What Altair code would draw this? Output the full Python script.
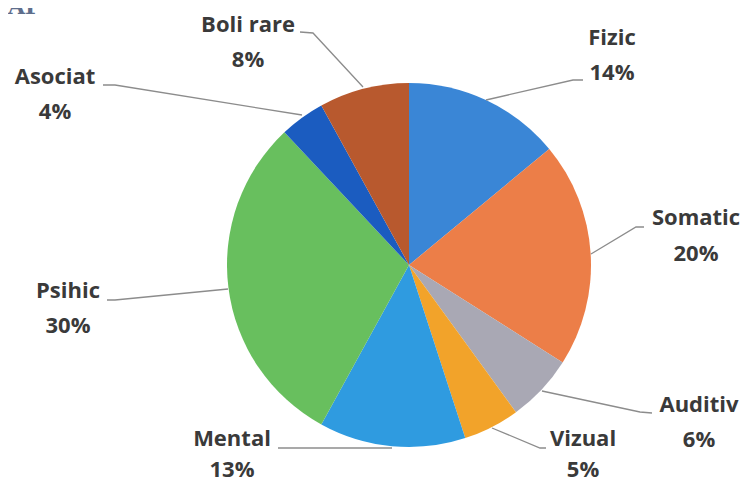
import altair as alt
import pandas as pd

# ---- data ----
categories = ["Fizic", "Somatic", "Auditiv", "Vizual", "Mental", "Psihic", "Asociat", "Boli rare"]
values = [14, 20, 6, 5, 13, 30, 4, 8]
pct_labels = ["14%", "20%", "6%", "5%", "13%", "30%", "4%", "8%"]
colors = ["#3A86D6", "#EC7E48", "#A9A8B4", "#F2A32A", "#2F9BE0", "#68BF5E", "#1B5CC0", "#B8592E"]

# ---- layout (page pixels) ----
W, H = 736, 474
OFF = 8
CX, CY, R = 409, 265, 182
# label centre x, name line y, percent line y
label_x = [612, 696, 699, 583, 232, 68, 55, 248]
name_y = [38, 218, 405, 439, 439, 291, 77, 25]
pct_y = [73, 254, 440, 470, 470, 326, 112, 60]
# leader lines: pie-side point, elbow, label-side point
lead_x = [[486, 573, 583], [591, 636, 644], [542, 640, 652], [492, 540, 546],
          [392, 285, 278], [228, 115, 107], [302, 115, 103], [363, 313, 300]]
lead_y = [[100, 80, 80], [254, 227, 227], [391, 412, 413], [428, 448, 448],
          [448, 448, 448], [289, 300, 300], [115, 85, 85], [87, 33, 32]]

pie_df = pd.DataFrame({"cat": categories, "value": values, "idx": range(len(values))})

lab_rows = []
for i, c in enumerate(categories):
    lab_rows.append({"cat": c, "x": label_x[i] - OFF, "y": name_y[i] - OFF, "text": c})
    lab_rows.append({"cat": c, "x": label_x[i] - OFF, "y": pct_y[i] - OFF, "text": pct_labels[i]})
lab_df = pd.DataFrame(lab_rows)

line_rows = []
for i, c in enumerate(categories):
    for k in range(3):
        line_rows.append({"cat": c, "k": k, "x": lead_x[i][k] - OFF, "y": lead_y[i][k] - OFF})
line_df = pd.DataFrame(line_rows)

xs = alt.Scale(domain=[0, W], range=[0, W])
ys = alt.Scale(domain=[0, H], range=[0, H])

pie = alt.Chart(pie_df).mark_arc(outerRadius=R).encode(
    theta=alt.Theta("value:Q", stack=True),
    color=alt.Color("cat:N", scale=alt.Scale(domain=categories, range=colors), legend=None, sort=None),
    order=alt.Order("idx:Q"),
    x=alt.value(CX - OFF),
    y=alt.value(CY - OFF),
)

lines = alt.Chart(line_df).mark_line(color="#8C8C8C", strokeWidth=1.3).encode(
    x=alt.X("x:Q", scale=xs, axis=None),
    y=alt.Y("y:Q", scale=ys, axis=None),
    detail="cat:N",
    order="k:Q",
)

labels = alt.Chart(lab_df).mark_text(
    font="Open Sans", fontSize=22, fontWeight="bold", color="#3A3A3A", align="center", baseline="middle"
).encode(
    x=alt.X("x:Q", scale=xs, axis=None),
    y=alt.Y("y:Q", scale=ys, axis=None),
    text="text:N",
)

title_df = pd.DataFrame({"x": [0], "y": [14 - OFF], "text": ["AP"]})
title = alt.Chart(title_df).mark_text(
    font="DejaVu Serif", fontSize=22, fontWeight="bold", color="#5E6E8C", align="left", baseline="alphabetic"
).encode(
    x=alt.X("x:Q", scale=xs, axis=None),
    y=alt.Y("y:Q", scale=ys, axis=None),
    text="text:N",
)

chart = alt.layer(pie, lines, labels, title).properties(
    width=W, height=H, autosize=alt.AutoSizeParams(type="none"), padding=0, background="white"
).configure_view(strokeWidth=0, stroke="transparent")

chart.save("out.html", embed_options={"renderer": "svg", "actions": False})
